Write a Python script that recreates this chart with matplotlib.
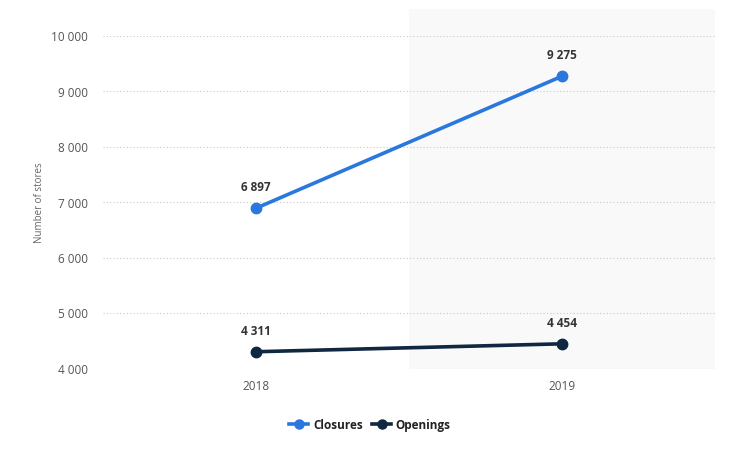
import matplotlib.pyplot as plt
from matplotlib.patches import Rectangle
from matplotlib.lines import Line2D

years = ["2018", "2019"]
closures = [6897, 9275]
openings = [4311, 4454]
yticks = [4000, 5000, 6000, 7000, 8000, 9000, 10000]

plt.rcParams['font.family'] = ['Open Sans', 'DejaVu Sans']

fig = plt.figure(figsize=(7.29, 4.65), dpi=100)
ax = fig.add_axes([103/729, 1-369/465, 612/729, 333/465])

x = list(range(len(years)))
# shaded band behind the second category
ax.add_patch(Rectangle((0.5, 0), 1.0, 1.08, transform=ax.get_xaxis_transform(),
                       facecolor='#f9f9f9', edgecolor='none', clip_on=False, zorder=0))

for yv in yticks:
    ax.axhline(yv, color='#c8c8c8', lw=0.8, ls=(0, (1, 2)), zorder=1)

ax.plot(x, closures, color='#2a77dd', lw=2.6, marker='o', ms=7.5, zorder=3, label='Closures')
ax.plot(x, openings, color='#0f2741', lw=2.6, marker='o', ms=7.5, zorder=3, label='Openings')

def fmt(v):
    return f"{v:,}".replace(",", " ")

for xi, v in zip(x, closures):
    ax.annotate(fmt(v), (xi, v), xytext=(0, 10), textcoords='offset points',
                ha='center', va='bottom', fontsize=8.5, fontweight='bold', color='#333333')
for xi, v in zip(x, openings):
    ax.annotate(fmt(v), (xi, v), xytext=(0, 10), textcoords='offset points',
                ha='center', va='bottom', fontsize=8.5, fontweight='bold', color='#333333')

ax.set_xlim(-0.5, 1.5)
ax.set_ylim(4000, 10000)
ax.set_xticks(x)
ax.set_xticklabels(years)
ax.set_yticks(yticks)
ax.set_yticklabels([fmt(v) for v in yticks])
ax.tick_params(axis='both', length=0, labelsize=8.5, colors='#555555')
ax.tick_params(axis='y', pad=11)
ax.tick_params(axis='x', pad=8)
for s in ax.spines.values():
    s.set_visible(False)
ax.set_facecolor('none')
ax.set_ylabel('Number of stores', fontsize=7, color='#666666')
ax.yaxis.set_label_coords(-0.095, 0.5)

handles = [Line2D([0], [0], color='#2a77dd', lw=2.6, marker='o', ms=6.5),
           Line2D([0], [0], color='#0f2741', lw=2.6, marker='o', ms=6.5)]
fig.legend(handles, ['Closures', 'Openings'], loc='center', bbox_to_anchor=(370/729, 1-425/465),
           ncol=2, frameon=False, prop={'weight': 'bold', 'size': 8.5}, handlelength=1.6,
           handletextpad=0.4, columnspacing=0.8, labelcolor='#222222')

fig.savefig('out.png', dpi=100)
